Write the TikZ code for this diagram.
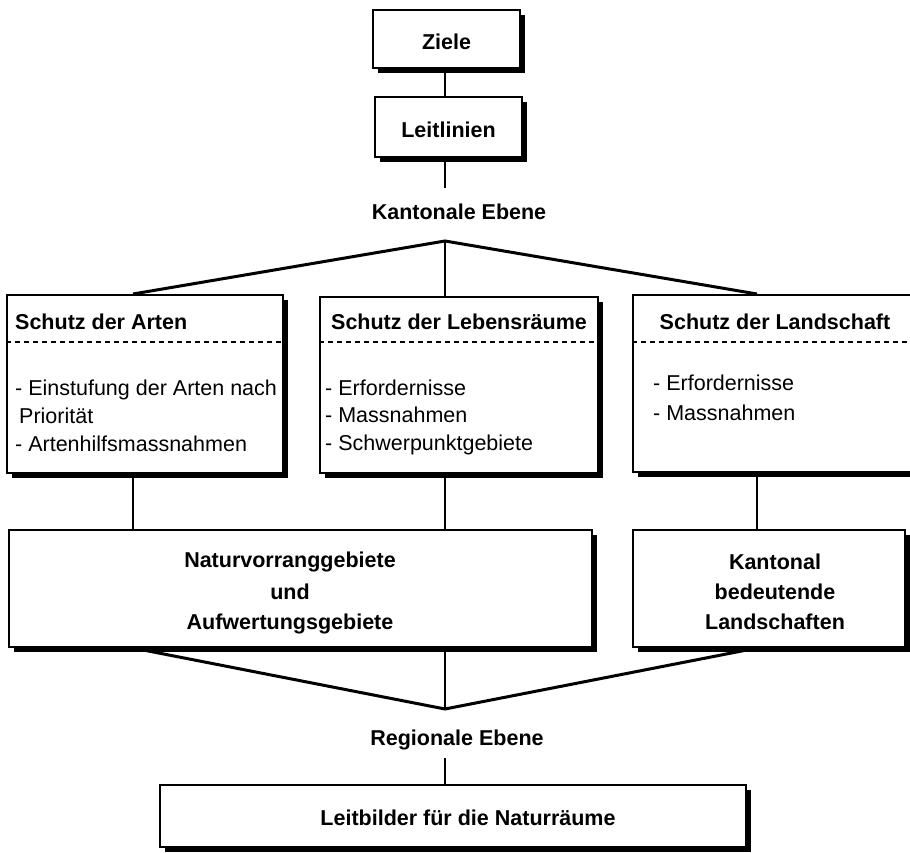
\documentclass[tikz,border=0pt]{standalone}
\usepackage{fontspec}
\setmainfont{Liberation Sans}
\usetikzlibrary{shadows}
\begin{document}
\begin{tikzpicture}[x=1pt,y=-1pt,
  box/.style={draw, line width=2pt, fill=white, inner sep=0pt,
    drop shadow={shadow xshift=5pt,shadow yshift=-5pt,fill=black,opacity=1}},
  lbl/.style={font=\bfseries\fontsize{21.5}{29}\selectfont, inner sep=0pt, text height=15.4pt, text depth=0pt},
  itm/.style={font=\fontsize{21.5}{29}\selectfont, inner sep=0pt, text height=15.4pt, text depth=0pt, anchor=west},
  conn/.style={line width=1.8pt},
  slant/.style={line width=3pt, line join=miter},
  dsh/.style={line width=2pt, dash pattern=on 5pt off 4pt}]
\useasboundingbox (0,0) rectangle (910,853);
\clip (0,0) rectangle (910,853);
% boxes
\node[box, lbl, text height=21pt, minimum width=147pt, minimum height=58pt] (ziele) at (446.5,39) {Ziele};
\node[box, lbl, text height=22pt, minimum width=147pt, minimum height=60pt] (leit) at (448.5,127) {Leitlinien};
\node[box, minimum width=276pt, minimum height=178pt] (arten) at (145,384) {};
\node[box, minimum width=278pt, minimum height=176pt] (lebens) at (459,385) {};
\node[box, minimum width=282pt, minimum height=177pt] (land) at (774,383.5) {};
\node[box, minimum width=583pt, minimum height=117pt] (natur) at (300.5,588.5) {};
\node[box, minimum width=272pt, minimum height=117pt] (kbl) at (769,588.5) {};
\node[box, minimum width=586pt, minimum height=62pt] (leitbild) at (453,816) {};
% helper coordinates
\coordinate (ap1) at (445,241);
\coordinate (k1) at (445,188);
\coordinate (xa) at (133,0);
\coordinate (xc) at (757,0);
\coordinate (dy) at (0,342);
\coordinate (ap2) at (445,709);
\coordinate (r1) at (445,758);
% dashed separators
\draw[dsh] (arten.west |- dy) -- (arten.east |- dy);
\draw[dsh] (lebens.west |- dy) -- (lebens.east |- dy);
\draw[dsh] (land.west |- dy) -- (land.east |- dy);
% texts
\node[lbl] (kant) at (459,212) {Kantonale Ebene};
\node[lbl, anchor=west] (t1) at (15,322) {Schutz der Arten};
\node[lbl] (t2) at (459,322) {Schutz der Lebensräume};
\node[lbl] (t3) at (775,322) {Schutz der Landschaft};
\node[itm] (a1) at (15,388) {- Einstufung der Arten nach};
\node[itm] (a2) at (19,416) {Priorität};
\node[itm] (a3) at (15,444) {- Artenhilfsmassnahmen};
\node[itm] (b1) at (325,388) {- Erfordernisse};
\node[itm] (b2) at (325,415) {- Massnahmen};
\node[itm] (b3) at (325,443) {- Schwerpunktgebiete};
\node[itm] (c1) at (653,383) {- Erfordernisse};
\node[itm] (c2) at (653,413) {- Massnahmen};
\node[lbl] (n1) at (290,560) {Naturvorranggebiete};
\node[lbl] (n2) at (290,592) {und};
\node[lbl] (n3) at (290,622) {Aufwertungsgebiete};
\node[lbl] (l1) at (775,562) {Kantonal};
\node[lbl] (l2) at (775,592) {bedeutende};
\node[lbl] (l3) at (775,622) {Landschaften};
\node[lbl] (reg) at (457,738) {Regionale Ebene};
\node[lbl] (lbt) at (468,818) {Leitbilder für die Naturräume};
% connectors
\draw[conn] (ziele.south -| ap1) -- (leit.north -| ap1);
\draw[conn] (leit.south -| ap1) -- (k1);
\draw[slant] (arten.north -| xa) -- (ap1) -- (land.north -| xc);
\draw[conn] (ap1) -- (lebens.north -| ap1);
\draw[conn] (arten.south -| xa) -- (natur.north -| xa);
\draw[conn] (lebens.south -| ap1) -- (natur.north -| ap1);
\draw[conn] (land.south -| xc) -- (kbl.north -| xc);
\draw[slant] (natur.south -| xa) -- (ap2) -- (kbl.south -| xc);
\draw[conn] (natur.south -| ap2) -- (ap2);
\draw[conn] (r1) -- (leitbild.north -| r1);
\end{tikzpicture}
\end{document}
